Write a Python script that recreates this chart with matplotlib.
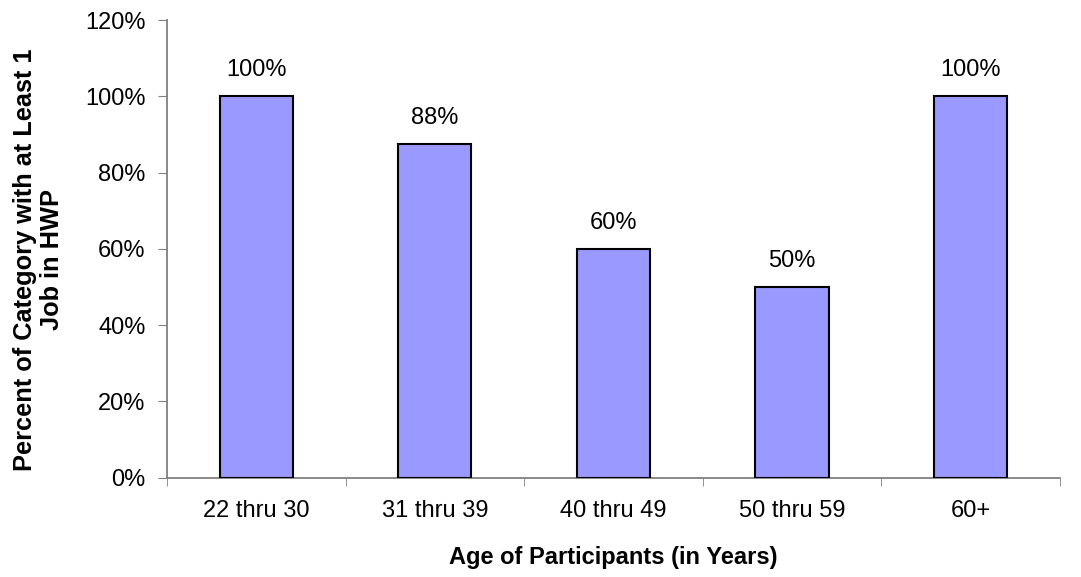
import matplotlib
matplotlib.use("Agg")
import matplotlib.pyplot as plt
from matplotlib.ticker import FixedLocator, PercentFormatter

plt.rcParams['font.family'] = ['Liberation Sans', 'DejaVu Sans']

categories = ["22 thru 30", "31 thru 39", "40 thru 49", "50 thru 59", "60+"]
shares = [1.00, 0.875, 0.60, 0.50, 1.00]
y_ticks = [0.0, 0.2, 0.4, 0.6, 0.8, 1.0, 1.2]

FS = 17

fig = plt.figure(figsize=(10.81, 5.77), dpi=100)
ax = fig.add_axes([0.1545, 0.172, 0.826, 0.7933])

x = list(range(len(categories)))
ax.bar(x, shares, width=0.41, color="#9999FF", edgecolor="black", linewidth=1.5, zorder=3)

for xi, v in zip(x, shares):
    ax.annotate(f"{v:.0%}", (xi, v), xytext=(0, 11), textcoords="offset points",
                ha="center", va="bottom", fontsize=FS)

ax.set_xlim(-0.5, len(categories) - 0.5)
ax.set_ylim(0, 1.2)
ax.set_yticks(y_ticks)
ax.yaxis.set_major_formatter(PercentFormatter(1.0, decimals=0))
ax.set_xticks(x)
ax.set_xticklabels(categories)
ax.xaxis.set_minor_locator(FixedLocator([i - 0.5 for i in range(len(categories) + 1)]))
ax.tick_params(axis="x", which="major", length=0, pad=16, labelsize=FS)
ax.tick_params(axis="x", which="minor", length=6, color="#808080", direction="out")
ax.tick_params(axis="y", length=6.5, color="#808080", direction="out", pad=9, labelsize=FS)

for s in ("top", "right"):
    ax.spines[s].set_visible(False)
for s in ("left", "bottom"):
    ax.spines[s].set_color("#808080")
    ax.spines[s].set_linewidth(1.3)

ax.set_ylabel("Percent of Category with at Least 1\nJob in HWP", fontsize=18.25,
              fontweight="bold", linespacing=1.15)
ax.yaxis.set_label_coords(-0.115, 0.476)
ax.set_xlabel("Age of Participants (in Years)", fontsize=FS, fontweight="bold", va="top")
ax.xaxis.set_label_coords(0.5, -0.149)

fig.savefig("out.png", dpi=100, facecolor="white")
